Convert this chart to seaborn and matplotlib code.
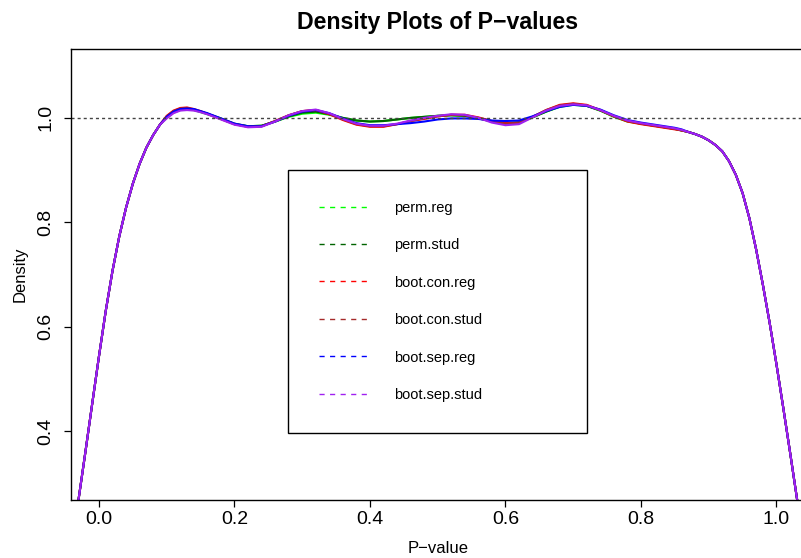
import matplotlib
matplotlib.use("Agg")
import matplotlib.pyplot as plt
from matplotlib.lines import Line2D
import pandas as pd
import seaborn as sns

# Evaluation grid of the kernel density estimates (finer near the boundaries)
p_grid = [-0.06, -0.05, -0.04, -0.03, -0.02, -0.01, 0.00, 0.01, 0.02, 0.03,
          0.04, 0.05, 0.06, 0.07, 0.08, 0.09, 0.10, 0.11, 0.12, 0.13,
          0.14, 0.15, 0.16,
          0.18, 0.20, 0.22, 0.24, 0.26, 0.28, 0.30, 0.32, 0.34, 0.36,
          0.38, 0.40, 0.42, 0.44, 0.46, 0.48, 0.50, 0.52, 0.54, 0.56,
          0.58, 0.60, 0.62, 0.64, 0.66, 0.68, 0.70, 0.72, 0.74, 0.76,
          0.78, 0.80, 0.82, 0.84,
          0.85, 0.86, 0.87, 0.88, 0.89, 0.90, 0.91, 0.92, 0.93, 0.94,
          0.95, 0.96, 0.97, 0.98, 0.99, 1.00, 1.01, 1.02, 1.03, 1.04,
          1.05, 1.06]

perm_reg = [0.04, 0.105, 0.183, 0.27, 0.36, 0.452, 0.543, 0.63, 0.707, 0.773,
            0.828, 0.874, 0.912, 0.943, 0.967, 0.987, 1.001, 1.010, 1.015, 1.017,
            1.015, 1.011, 1.007,
            0.998, 0.988, 0.984, 0.985, 0.993, 1.002, 1.008, 1.010, 1.006, 1.000,
            0.995, 0.993, 0.994, 0.997, 1.000, 1.002, 1.004, 1.005, 1.004, 1.000,
            0.994, 0.990, 0.992, 1.001, 1.012, 1.021, 1.025, 1.023, 1.014, 1.002,
            0.993, 0.989, 0.985, 0.981,
            0.979, 0.976, 0.973, 0.969, 0.964, 0.957, 0.948, 0.936, 0.917, 0.891,
            0.856, 0.808, 0.748, 0.680, 0.607, 0.528, 0.445, 0.360, 0.273, 0.188,
            0.110, 0.045]

perm_stud = [0.04, 0.105, 0.183, 0.27, 0.36, 0.452, 0.543, 0.63, 0.707, 0.773,
             0.828, 0.874, 0.912, 0.943, 0.967, 0.987, 1.002, 1.011, 1.016, 1.018,
             1.016, 1.012, 1.008,
             0.999, 0.989, 0.984, 0.985, 0.993, 1.003, 1.010, 1.012, 1.007, 1.000,
             0.995, 0.993, 0.994, 0.997, 1.000, 1.002, 1.004, 1.005, 1.004, 0.999,
             0.993, 0.989, 0.991, 1.001, 1.012, 1.022, 1.026, 1.023, 1.014, 1.003,
             0.994, 0.989, 0.985, 0.981,
             0.979, 0.976, 0.973, 0.969, 0.964, 0.957, 0.948, 0.936, 0.917, 0.891,
             0.856, 0.808, 0.748, 0.680, 0.607, 0.528, 0.445, 0.360, 0.273, 0.188,
             0.110, 0.045]

boot_con_reg = [0.04, 0.105, 0.183, 0.27, 0.36, 0.452, 0.543, 0.63, 0.707, 0.773,
                0.828, 0.874, 0.912, 0.943, 0.967, 0.987, 1.004, 1.014, 1.019, 1.020,
                1.017, 1.013, 1.008,
                0.998, 0.988, 0.983, 0.984, 0.994, 1.005, 1.013, 1.015, 1.007, 0.996,
                0.987, 0.983, 0.983, 0.988, 0.994, 0.998, 1.003, 1.006, 1.006, 1.001,
                0.994, 0.990, 0.991, 1.002, 1.015, 1.025, 1.028, 1.025, 1.015, 1.003,
                0.993, 0.988, 0.984, 0.980,
                0.978, 0.976, 0.973, 0.969, 0.964, 0.957, 0.948, 0.936, 0.917, 0.891,
                0.856, 0.808, 0.748, 0.680, 0.607, 0.528, 0.445, 0.360, 0.273, 0.188,
                0.110, 0.045]

boot_con_stud = [0.04, 0.105, 0.183, 0.27, 0.36, 0.452, 0.543, 0.63, 0.707, 0.773,
                 0.828, 0.874, 0.912, 0.943, 0.967, 0.987, 1.003, 1.013, 1.018, 1.019,
                 1.016, 1.012, 1.008,
                 0.998, 0.988, 0.983, 0.984, 0.994, 1.005, 1.013, 1.015, 1.008, 0.997,
                 0.988, 0.984, 0.984, 0.988, 0.994, 0.999, 1.003, 1.006, 1.005, 1.000,
                 0.993, 0.989, 0.991, 1.002, 1.015, 1.024, 1.027, 1.024, 1.015, 1.003,
                 0.994, 0.989, 0.985, 0.981,
                 0.979, 0.976, 0.973, 0.969, 0.964, 0.957, 0.948, 0.936, 0.917, 0.891,
                 0.856, 0.808, 0.748, 0.680, 0.607, 0.528, 0.445, 0.360, 0.273, 0.188,
                 0.110, 0.045]

boot_sep_reg = [0.04, 0.105, 0.183, 0.27, 0.36, 0.452, 0.543, 0.63, 0.707, 0.773,
                0.828, 0.874, 0.912, 0.943, 0.967, 0.987, 1.002, 1.012, 1.017, 1.018,
                1.017, 1.013, 1.009,
                0.999, 0.989, 0.984, 0.984, 0.993, 1.004, 1.012, 1.015, 1.009, 0.999,
                0.990, 0.986, 0.986, 0.988, 0.990, 0.993, 0.997, 0.999, 0.999, 0.998,
                0.995, 0.994, 0.995, 1.003, 1.013, 1.021, 1.025, 1.023, 1.016, 1.005,
                0.996, 0.991, 0.987, 0.983,
                0.981, 0.978, 0.973, 0.969, 0.964, 0.957, 0.948, 0.936, 0.917, 0.891,
                0.856, 0.808, 0.748, 0.680, 0.607, 0.528, 0.445, 0.360, 0.273, 0.188,
                0.110, 0.045]

boot_sep_stud = [0.04, 0.105, 0.183, 0.27, 0.36, 0.452, 0.543, 0.63, 0.707, 0.773,
                 0.828, 0.874, 0.912, 0.943, 0.967, 0.987, 0.999, 1.009, 1.014, 1.015,
                 1.014, 1.011, 1.007,
                 0.997, 0.987, 0.982, 0.983, 0.993, 1.005, 1.013, 1.016, 1.009, 0.998,
                 0.989, 0.985, 0.985, 0.989, 0.995, 1.000, 1.004, 1.007, 1.006, 1.000,
                 0.991, 0.986, 0.988, 1.001, 1.014, 1.023, 1.026, 1.024, 1.015, 1.004,
                 0.995, 0.990, 0.986, 0.982,
                 0.980, 0.977, 0.973, 0.969, 0.964, 0.957, 0.948, 0.936, 0.917, 0.891,
                 0.856, 0.808, 0.748, 0.680, 0.607, 0.528, 0.445, 0.360, 0.273, 0.188,
                 0.110, 0.045]

methods = ["perm.reg", "perm.stud", "boot.con.reg", "boot.con.stud",
           "boot.sep.reg", "boot.sep.stud"]
series = [perm_reg, perm_stud, boot_con_reg, boot_con_stud,
          boot_sep_reg, boot_sep_stud]
line_colors = ["#00FF00", "#006400", "#FF0000", "#A52A2A", "#0000FF", "#A020F0"]

x_ticks = [0.0, 0.2, 0.4, 0.6, 0.8, 1.0]
y_ticks = [0.4, 0.6, 0.8, 1.0]

df = pd.concat(
    [pd.DataFrame({"p": p_grid, "density": vals, "method": name})
     for name, vals in zip(methods, series)],
    ignore_index=True,
)

sns.set_theme(style="white")
plt.rcParams["font.family"] = ["Liberation Sans", "DejaVu Sans"]

fig = plt.figure(figsize=(8.01, 5.58), dpi=100)
ax = fig.add_axes([0.0886, 0.1039, 0.9157, 0.8083])

sns.lineplot(data=df, x="p", y="density", hue="method", hue_order=methods,
             palette=line_colors, linewidth=1.5, legend=False, sort=False,
             estimator=None, ax=ax)

# Reference line for the uniform density
ax.axhline(1.0, color="#444444", linewidth=1.0, linestyle=(0, (2.2, 2.2)))

ax.set_xlim(-0.0413, 1.0413)
ax.set_ylim(0.268, 1.132)
ax.set_xticks(x_ticks)
ax.set_yticks(y_ticks)
ax.set_xticklabels([f"{t:.1f}" for t in x_ticks])
ax.set_yticklabels([f"{t:.1f}" for t in y_ticks])

for side in ax.spines.values():
    side.set_color("black")
    side.set_linewidth(1.0)

ax.tick_params(axis="both", which="major", direction="out", length=5,
               width=0.9, color="black", labelcolor="black", labelsize=14,
               bottom=True, left=True)
ax.tick_params(axis="x", pad=3.2)
ax.tick_params(axis="y", pad=7, labelrotation=90)
for lbl in ax.get_yticklabels():
    lbl.set_verticalalignment("center")

ax.set_xlabel("P\u2212value", fontsize=12, color="black")
ax.set_ylabel("Density", fontsize=12, color="black")
ax.xaxis.set_label_coords(0.5, -0.1064)
ax.yaxis.set_label_coords(-0.0695, 0.5)
ax.xaxis.label.set_verticalalignment("center")
ax.yaxis.label.set_verticalalignment("center")

fig.text(438 / 801, 1 - 22 / 558, "Density Plots of P\u2212values",
         ha="center", va="center", fontsize=16.7, fontweight="bold",
         color="black")

handles = [Line2D([], [], color=c, linewidth=1.0, linestyle=(0, (3.7, 3.9)))
           for c in line_colors]
leg = ax.legend(handles, methods, loc="upper left",
                bbox_to_anchor=(0.2963, 0.7317, 0.4076, 0.0), mode="expand",
                borderaxespad=0, fontsize=10.5, frameon=True, fancybox=False,
                edgecolor="black", framealpha=1, borderpad=2.1,
                labelspacing=1.61, handlelength=3.59, handletextpad=1.55)
leg.get_frame().set_linewidth(1.0)
for txt in leg.get_texts():
    txt.set_color("black")

fig.savefig("out.png", dpi=100)
